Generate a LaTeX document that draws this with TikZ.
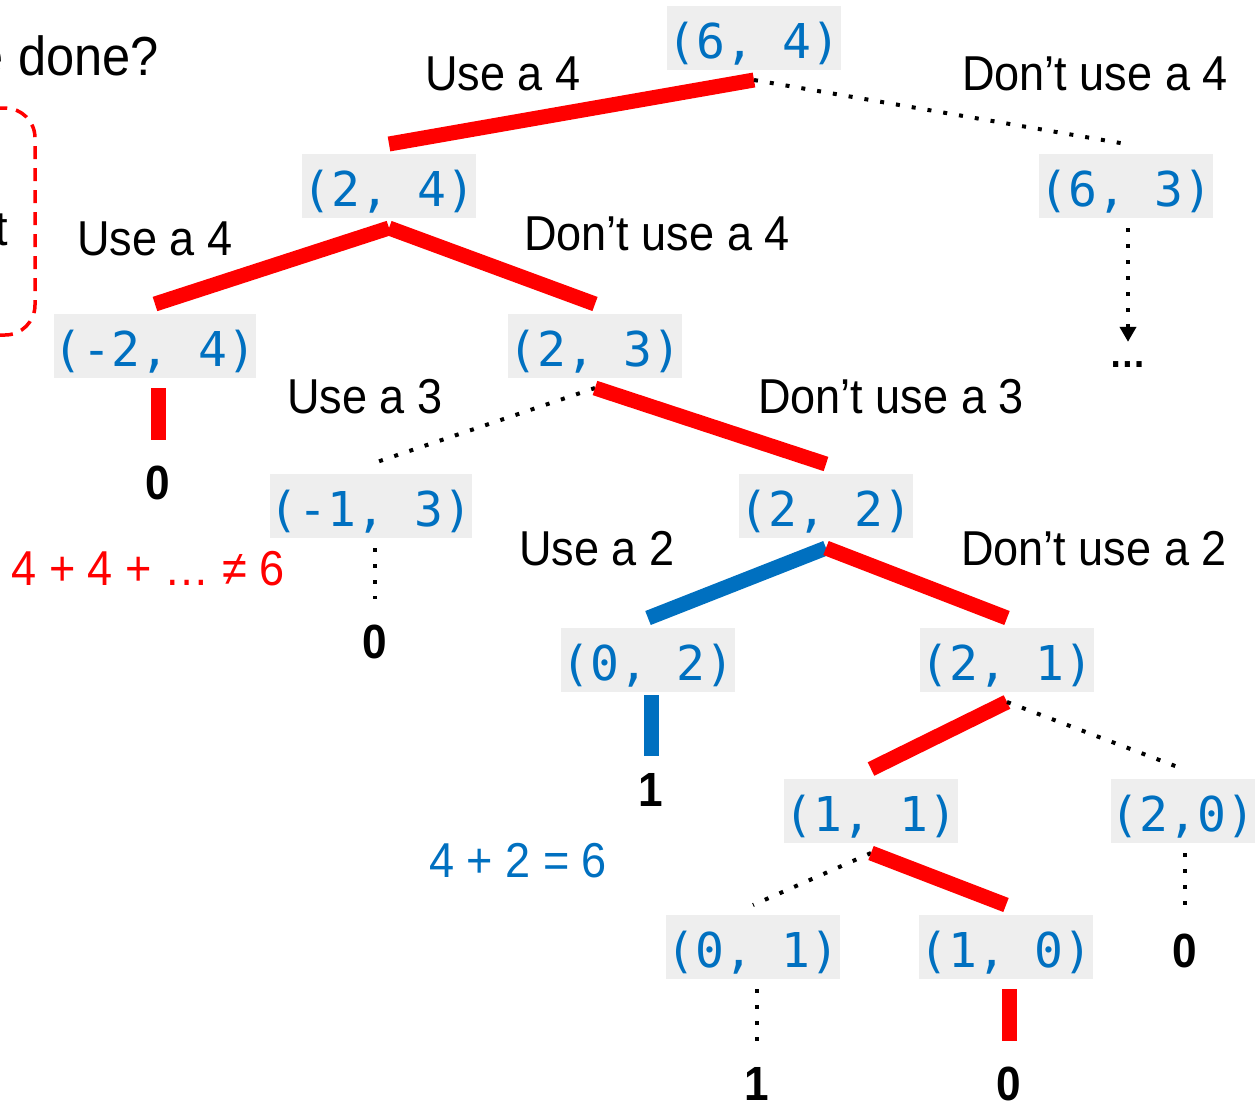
\documentclass[tikz,border=0pt]{standalone}
\usepackage{fontspec}
\setmainfont[FakeStretch=0.92]{Liberation Sans}
\newfontfamily\codefont{DejaVu Sans Mono}
\usetikzlibrary{arrows.meta}
\definecolor{cblue}{HTML}{0070C0}
\definecolor{boxgray}{HTML}{EEEEEE}
\definecolor{cred}{HTML}{FF0000}
\begin{document}
\begin{tikzpicture}[x=1pt,y=-1pt,
  state/.style={fill=boxgray, text=cblue, font=\codefont\fontsize{48}{56}\selectfont,
    inner xsep=0pt, inner ysep=0pt, text height=52pt, text depth=12pt, outer ysep=10pt},
  lbl/.style={anchor=base, inner sep=0pt, font=\fontsize{49}{58}\selectfont},
  res/.style={anchor=base, inner sep=0pt, font=\fontsize{48}{56}\selectfont\bfseries},
  redE/.style={draw=cred, line width=15pt},
  blueE/.style={draw=cblue, line width=15pt},
  dotE/.style={draw=black, line width=4pt, dash pattern=on 4pt off 12pt},
]
\useasboundingbox (0,0) rectangle (1259,1101);
\clip (0,0) rectangle (1259,1101);

% partial texts at the left edge
\node[lbl, anchor=base east, font=\fontsize{55}{64}\selectfont] (q) at (159,75) {e done?};
\node[lbl, anchor=base east] (t) at (8,245) {t};
\draw[cred, line width=3.5pt, dash pattern=on 13pt off 9pt, rounded corners=30pt]
  (-80,108) rectangle (35,335);

% states
\node[state] (a64) at (754,38) {(6, 4)};
\node[state] (a24) at (389,186) {(2, 4)};
\node[state] (a63) at (1126,186) {(6, 3)};
\node[state] (am24) at (155,346) {(-2, 4)};
\node[state] (a23) at (595,346) {(2, 3)};
\node[state] (am13) at (371,506) {(-1, 3)};
\node[state] (a22) at (826,506) {(2, 2)};
\node[state] (a02) at (648,660) {(0, 2)};
\node[state] (a21) at (1007,660) {(2, 1)};
\node[state] (a11) at (871,811) {(1, 1)};
\node[state] (a20) at (1183,811) {(2,0)};
\node[state] (a01) at (753,947) {(0, 1)};
\node[state] (a10) at (1006,947) {(1, 0)};

% results
\node[res] (z1) at (158,499) {0};
\node[res] (z2) at (375,658) {0};
\node[res] (o1) at (651,806) {1};
\node[res] (o2) at (757,1100) {1};
\node[res] (z3) at (1009,1100) {0};
\node[res] (z4) at (1185,967) {0};
\node[anchor=base, inner sep=0pt, font=\fontsize{40}{46}\selectfont\bfseries] (dots) at (1128,367) {…};

% labels
\node[lbl] (l1) at (503,90) {Use a 4};
\node[lbl] (l2) at (1095,90) {Don’t use a 4};
\node[lbl] (l3) at (155,255) {Use a 4};
\node[lbl] (l4) at (657,250) {Don’t use a 4};
\node[lbl] (l5) at (365,413) {Use a 3};
\node[lbl] (l6) at (891,413) {Don’t use a 3};
\node[lbl] (l7) at (597,565) {Use a 2};
\node[lbl] (l8) at (1094,565) {Don’t use a 2};
\node[lbl, text=cred] (f1) at (148,585) {4 + 4 + … ≠ 6};
\node[lbl, text=cblue] (f2) at (518,877) {4 + 2 = 6};

% connectors
\draw[redE] (a64.south) -- (a24.north);
\draw[dotE] (a64.south) -- (a63.north);
\draw[redE] (a24.south) -- (am24.north);
\draw[redE] (a24.south) -- (a23.north);
\draw[redE, shorten >=25pt] (am24.south -| z1) -- (z1.north);
\draw[dotE] (a23.south) -- (am13.north);
\draw[redE] (a23.south) -- (a22.north);
\draw[dotE, shorten >=25pt] (am13.south -| z2) -- (z2.north);
\draw[blueE] (a22.south) -- (a02.north);
\draw[redE] (a22.south) -- (a21.north);
\draw[blueE, shorten >=17pt, shorten <=-7pt] (a02.south -| o1) -- (o1.north);
\draw[redE] (a21.south) -- (a11.north);
\draw[dotE] (a21.south) -- (a20.north);
\draw[dotE] (a11.south) -- (a01.north);
\draw[redE] (a11.south) -- (a10.north);
\draw[dotE, shorten >=25pt] (a01.south -| o2) -- (o2.north);
\draw[redE, shorten >=25pt] (a10.south -| z3) -- (z3.north);
\draw[dotE, shorten >=27pt] (a20.south -| z4) -- (z4.north);
\draw[dotE, -{Triangle[width=16pt,length=15pt]}, shorten >=19pt] (a63.south -| dots) -- (dots.north);
\end{tikzpicture}
\end{document}
